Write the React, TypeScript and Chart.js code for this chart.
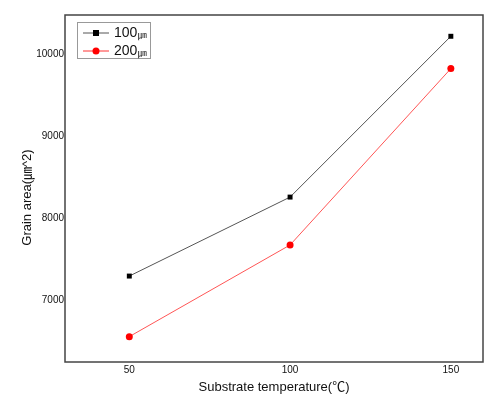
import React, { useEffect, useRef } from "react";
import { Chart, registerables } from "chart.js";

Chart.register(...registerables);

const temperatures = [50, 100, 150];
const grain100 = [7290, 8255, 10220];
const grain200 = [6550, 7670, 9825];
const xTickValues = [50, 100, 150];
const yTickValues = [7000, 8000, 9000, 10000];
const seriesSizes = ["100", "200"];
const sizeUnit = "㎛";

const FONT = "'Liberation Sans', Arial, 'Noto Sans CJK KR', sans-serif";
const CJK = "'Noto Sans CJK KR', sans-serif";

const framePlugin = {
  id: "frame",
  afterDatasetsDraw(chart: any) {
    const { ctx, chartArea } = chart;
    ctx.save();
    ctx.strokeStyle = "#444";
    ctx.lineWidth = 1.5;
    ctx.strokeRect(chartArea.left, chartArea.top, chartArea.right - chartArea.left, chartArea.bottom - chartArea.top);
    // legend box
    const bx = chartArea.left + 12;
    const by = chartArea.top + 7;
    ctx.lineWidth = 1;
    ctx.strokeStyle = "#999";
    ctx.strokeRect(bx + 0.5, by + 0.5, 73, 36);
    const items = [
      { label: seriesSizes[0], line: "#555", color: "#000", shape: "square" },
      { label: seriesSizes[1], line: "#f33", color: "#f00", shape: "circle" },
    ];
    items.forEach((it, i) => {
      const y = by + 11 + i * 18;
      ctx.strokeStyle = it.line;
      ctx.lineWidth = 1;
      ctx.beginPath();
      ctx.moveTo(bx + 6, y);
      ctx.lineTo(bx + 32, y);
      ctx.stroke();
      ctx.fillStyle = it.color;
      if (it.shape === "square") {
        ctx.fillRect(bx + 19 - 3, y - 3, 6, 6);
      } else {
        ctx.beginPath();
        ctx.arc(bx + 19, y, 3.5, 0, Math.PI * 2);
        ctx.fill();
      }
      ctx.fillStyle = "#111";
      ctx.font = `14px ${FONT}`;
      ctx.textBaseline = "middle";
      ctx.textAlign = "left";
      ctx.fillText(it.label, bx + 37, y + 0.5);
      const w = ctx.measureText(it.label).width;
      ctx.font = `9px ${CJK}`;
      ctx.fillText(sizeUnit, bx + 37 + w + 0.5, y + 2);
    });
    ctx.restore();
  },
};

export default function App() {
  const ref = useRef<HTMLCanvasElement | null>(null);
  useEffect(() => {
    document.body.style.margin = "0";
    const chart = new Chart(ref.current!, {
      type: "line",
      data: {
        labels: temperatures,
        datasets: [
          {
            label: seriesSizes[0] + sizeUnit,
            data: temperatures.map((t, i) => ({ x: t, y: grain100[i] })),
            borderColor: "#555",
            backgroundColor: "#000",
            borderWidth: 1,
            pointStyle: "rect",
            pointRadius: 3.5,
            pointBorderWidth: 0,
            pointBackgroundColor: "#000",
          },
          {
            label: seriesSizes[1] + sizeUnit,
            data: temperatures.map((t, i) => ({ x: t, y: grain200[i] })),
            borderColor: "#f55",
            backgroundColor: "#f00",
            borderWidth: 1,
            pointStyle: "circle",
            pointRadius: 3.5,
            pointBorderWidth: 0,
            pointBackgroundColor: "#f00",
          },
        ],
      },
      options: {
        animation: false,
        responsive: false,
        layout: { padding: { left: 0, top: 15, right: 10, bottom: 0 } },
        plugins: { legend: { display: false }, tooltip: { enabled: false } },
        scales: {
          x: {
            type: "linear",
            min: 30,
            max: 160,
            grid: { display: false, drawTicks: false },
            border: { display: false },
            afterBuildTicks: (s: any) => {
              s.ticks = xTickValues.map((v) => ({ value: v }));
            },
            afterFit: (s: any) => {
              s.height = 37;
            },
            ticks: { color: "#111", font: { size: 10, family: FONT }, padding: 2, callback: (v: any) => String(v) },
            title: {
              display: true,
              text: "Substrate temperature(℃)",
              color: "#111",
              font: { size: 13, family: FONT },
              padding: { top: 0, bottom: 4 },
            },
          },
          y: {
            min: 6240,
            max: 10480,
            grid: { display: false, drawTicks: false },
            border: { display: false },
            afterBuildTicks: (s: any) => {
              s.ticks = yTickValues.map((v) => ({ value: v }));
            },
            afterFit: (s: any) => {
              s.width = 65;
            },
            ticks: { color: "#111", font: { size: 10, family: FONT }, padding: 1, callback: (v: any) => String(v) },
            title: {
              display: true,
              text: "Grain area(㎛^2)     ",
              color: "#111",
              font: { size: 13, family: FONT },
              padding: { top: 20, bottom: 0 },
            },
          },
        },
      },
      plugins: [framePlugin],
    } as any);
    return () => chart.destroy();
  }, []);
  return (
    <div style={{ width: 493, height: 399, background: "#fff" }}>
      <canvas ref={ref} width={493} height={399} />
    </div>
  );
}
